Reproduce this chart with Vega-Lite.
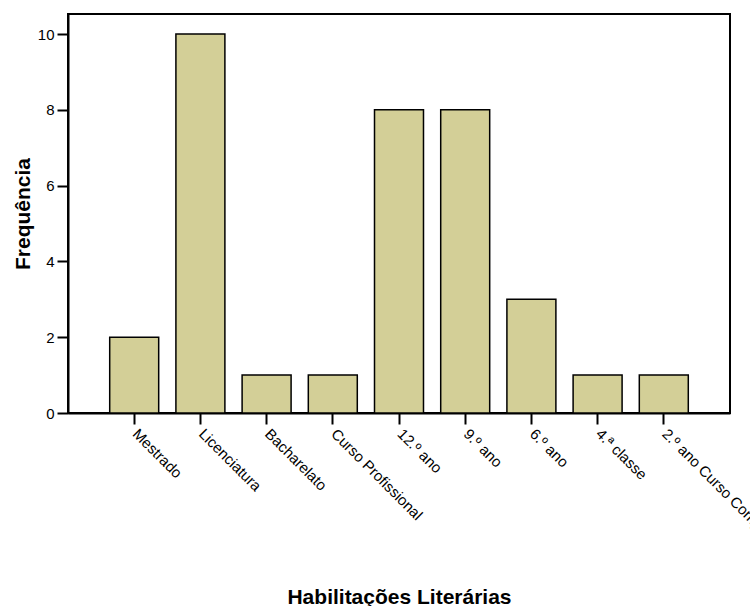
{
  "$schema": "https://vega.github.io/schema/vega-lite/v6.json",
  "autosize": {"type": "none"},
  "width": 662,
  "height": 399,
  "padding": {"left": 68, "top": 14, "right": 20, "bottom": 193},
  "background": "white",
  "data": {
    "values": [
      {"habilitacao": "Mestrado", "frequencia": 2},
      {"habilitacao": "Licenciatura", "frequencia": 10},
      {"habilitacao": "Bacharelato", "frequencia": 1},
      {"habilitacao": "Curso Profissional", "frequencia": 1},
      {"habilitacao": "12.º ano", "frequencia": 8},
      {"habilitacao": "9.º ano", "frequencia": 8},
      {"habilitacao": "6.º ano", "frequencia": 3},
      {"habilitacao": "4.ª classe", "frequencia": 1},
      {"habilitacao": "2.º ano Curso Complementar", "frequencia": 1}
    ]
  },
  "config": {
    "font": "Liberation Sans",
    "view": {"stroke": "black", "strokeWidth": 2},
    "axis": {
      "grid": false,
      "domainColor": "black",
      "domainWidth": 2,
      "tickColor": "black",
      "tickWidth": 2,
      "tickSize": 11,
      "labelColor": "black",
      "labelFont": "Liberation Sans",
      "labelFontSize": 15,
      "titleColor": "black",
      "titleFont": "Liberation Sans",
      "titleFontWeight": "bold",
      "titleFontSize": 21
    }
  },
  "mark": {"type": "bar", "color": "#d3cf97", "stroke": "black", "strokeWidth": 1.5},
  "encoding": {
    "x": {
      "field": "habilitacao",
      "type": "nominal",
      "sort": null,
      "scale": {"paddingInner": 0.26, "paddingOuter": 0.63},
      "axis": {
        "title": "Habilitações Literárias",
        "labelAngle": 45,
        "labelAlign": "left",
        "labelBaseline": "top",
        "labelPadding": 2,
        "labelOffset": 6,
        "labelLimit": 0,
        "titleY": 190,
        "titleBaseline": "alphabetic"
      }
    },
    "y": {
      "field": "frequencia",
      "type": "quantitative",
      "scale": {"domain": [0, 10.53], "nice": false},
      "axis": {
        "title": "Frequência",
        "values": [0, 2, 4, 6, 8, 10],
        "labelPadding": 3,
        "titleAngle": -90,
        "titleX": -45,
        "titleBaseline": "middle"
      }
    }
  }
}
